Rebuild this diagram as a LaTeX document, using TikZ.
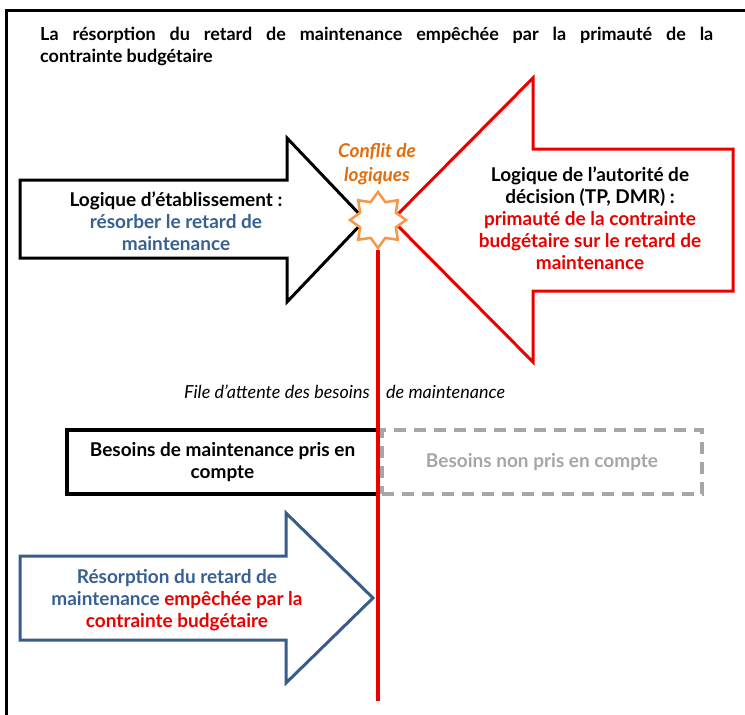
\documentclass[tikz,border=0pt]{standalone}
\usepackage{fontspec}
\setmainfont{Lato}
\usetikzlibrary{shapes.geometric}
\definecolor{bleu}{RGB}{56,93,138}
\definecolor{bleutxt}{RGB}{55,96,146}
\definecolor{rouge}{RGB}{235,0,0}
\definecolor{orangetxt}{RGB}{228,108,10}
\definecolor{orangestar}{RGB}{247,150,70}
\definecolor{gris}{RGB}{166,166,166}
\tikzset{
  txt/.style={font=\bfseries\fontsize{19}{22}\selectfont, align=center, inner sep=0pt},
  fleche/.style={line width=3pt, line join=miter, fill=white}
}

\begin{document}
\begin{tikzpicture}[x=1pt, y=-1pt]
  \useasboundingbox (0,0) rectangle (745,715);
  \draw[line width=3pt] (6,715) -- (6,10) -- (745,10);
  \node[txt, font=\bfseries\fontsize{18}{22}\selectfont, anchor=north west, text width=673pt, align=justify] (titre) at (40,27)
    {La résorption du retard de maintenance empêchée par la primauté de la\linebreak contrainte budgétaire};

  % fleches des deux logiques
  \draw[fleche, draw=black] (20,180) -- (287,180) -- (287,138) -- (365,220) -- (287,302) -- (287,258) -- (20,258) -- cycle;
  \draw[fleche, draw=rouge] (733,149) -- (533,149) -- (533,78) -- (392,220) -- (533,362) -- (533,291) -- (733,291) -- cycle;
  \node[txt] (etab) at (176,221) {Logique d’établissement :\\
    \textcolor{bleutxt}{résorber le retard de}\\ \textcolor{bleutxt}{maintenance}};
  \node[txt] (autorite) at (590,218) {Logique de l’autorité de\\ décision (TP, DMR) :\\
    \textcolor{rouge}{primauté de la contrainte}\\ \textcolor{rouge}{budgétaire sur le retard de}\\ \textcolor{rouge}{maintenance}};

  \node[txt, text=orangetxt, font=\bfseries\itshape\fontsize{19}{24}\selectfont] (conflit) at (377,164) {Conflit de\\ logiques};
  \node[star, star points=8, star point ratio=1.45, minimum size=56pt, draw=orangestar, line width=2.5pt, fill=white] (etoile) at (378,220) {};

  % file d'attente
  \node[txt, font=\itshape\fontsize{18}{20}\selectfont, anchor=east] (file) at (370,392) {File d’attente des besoins};
  \node[txt, font=\itshape\fontsize{18}{20}\selectfont, anchor=west] (filebis) at (386,392) {de maintenance};
  \node[txt, draw, line width=4pt, minimum width=311pt, minimum height=64pt] (pris) at (222.5,462)
    {Besoins de maintenance pris en\\ compte};
  \node[txt, draw=gris, text=gris, dashed, dash pattern=on 12pt off 8pt, line width=4pt,
    minimum width=320pt, minimum height=64pt, anchor=west] (nonpris) at (pris.east) {Besoins non pris en compte};

  \draw[fleche, draw=bleu] (20,556) -- (286,556) -- (286,513) -- (373,598) -- (286,683) -- (286,640) -- (20,640) -- cycle;
  \node[txt, text=bleutxt] (resorption) at (177,600) {Résorption du retard de\\
    maintenance \textcolor{rouge}{empêchée par la}\\ \textcolor{rouge}{contrainte budgétaire}};

  \coordinate (bas) at (378,701);
  \draw[rouge, line width=4pt] (etoile.south) -- (bas);
\end{tikzpicture}
\end{document}
